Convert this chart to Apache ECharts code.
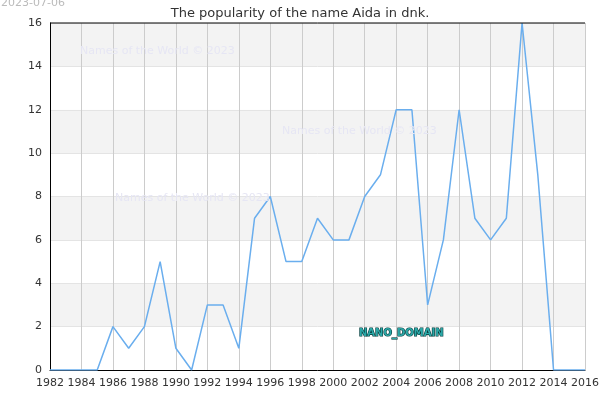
<!DOCTYPE html>
<html>
<head>
<meta charset="utf-8">
<script src="https://cdn.jsdelivr.net/npm/echarts@6/dist/echarts.min.js"></script>
<style>html,body{margin:0;padding:0;background:#fff}#chart{width:600px;height:400px}</style>
</head>
<body>
<div id="chart"></div>
<script>
// years and counts
const years = [1982, 1983, 1984, 1985, 1986, 1987, 1988, 1989, 1990, 1991, 1992, 1993, 1994, 1995, 1996, 1997, 1998, 1999,
  2000, 2001, 2002, 2003, 2004, 2005, 2006, 2007, 2008, 2009, 2010, 2011, 2012, 2013, 2014, 2015, 2016];
const counts = [0, 0, 0, 0, 2, 1, 2, 5, 1, 0, 3, 3, 1, 7, 8, 5, 5, 7,
  6, 6, 8, 9, 12, 12, 3, 6, 12, 7, 6, 7, 16, 9, 0, 0, 0];

const chart = echarts.init(document.getElementById("chart"));
const font = "DejaVu Sans";

function mark(x, y) {
  return { type: "text", x: x, y: y, z: 100,
    style: { text: "Names of the World © 2023", fill: "#e6e6f4", font: "11px " + font } };
}

chart.setOption({
  animation: false,
  title: {
    text: "The popularity of the name Aida in dnk.",
    left: "center", top: 2,
    textStyle: { fontFamily: font, fontSize: 13, fontWeight: "normal", color: "#333" }
  },
  grid: { left: 50, right: 15, top: 23, bottom: 30, containLabel: false, outerBoundsMode: "none" },
  xAxis: {
    type: "value", min: 1982, max: 2016, interval: 2,
    axisLine: { lineStyle: { color: "#000" } },
    axisTick: { show: false },
    axisLabel: { color: "#333", fontFamily: font, fontSize: 11, showMinLabel: true, showMaxLabel: true,
      hideOverlap: false, formatter: (v) => String(v) },
    splitLine: { lineStyle: { color: "#ccc" } }
  },
  yAxis: {
    type: "value", min: 0, max: 16, interval: 2,
    axisLine: { show: true, lineStyle: { color: "#000" } },
    axisTick: { show: false },
    axisLabel: { color: "#333", fontFamily: font, fontSize: 11 },
    splitLine: { lineStyle: { color: "#e4e4e4" } },
    splitArea: { show: true, areaStyle: { color: ["#fff", "#f3f3f3"] } }
  },
  series: [{
    type: "line",
    data: years.map((y, i) => [y, counts[i]]),
    showSymbol: false,
    lineStyle: { color: "#6aaeee", width: 1.5 }
  }],
  graphic: [
    { type: "line", z: 100, shape: { x1: 50, y1: 23, x2: 585, y2: 23 }, style: { stroke: "#000", lineWidth: 1 } },
    { type: "text", x: 1, y: -2, z: 100, style: { text: "2023-07-06", fill: "#bbb", font: "11px " + font } },
    mark(80, 46), mark(282, 126), mark(115, 193),
    { type: "text", x: 359, y: 328, z: 100,
      style: { text: "NANO_DOMAIN", fill: "#2aa7a7", stroke: "#033", lineWidth: 1.2, font: "bold 10px " + font } }
  ]
});
</script>
</body>
</html>
